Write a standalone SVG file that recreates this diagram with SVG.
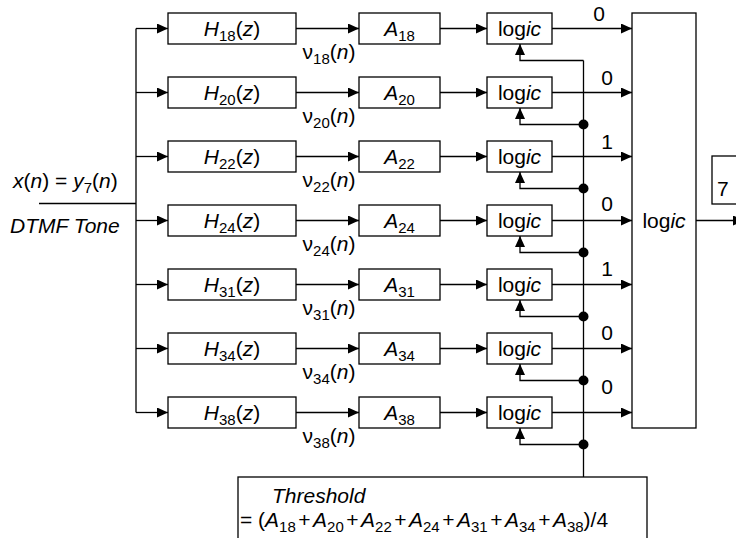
<svg xmlns="http://www.w3.org/2000/svg" width="736" height="538" viewBox="0 0 736 538">
<defs>
<marker id="ah" markerUnits="userSpaceOnUse" markerWidth="12" markerHeight="10" refX="11" refY="5" orient="auto">
<path d="M0,0 L11,5 L0,10 z" fill="#000"/>
</marker>
<style>
.b{fill:#fff;stroke:#000;stroke-width:1.3}
.w{fill:none;stroke:#000;stroke-width:1.3}
.a{fill:none;stroke:#000;stroke-width:1.3;marker-end:url(#ah)}
text{font-family:"Liberation Sans",Arial,sans-serif;font-size:21px;fill:#000}
.m{text-anchor:middle}
.i{font-style:italic}
.s{font-size:15px}
</style>
</defs>
<rect width="736" height="538" fill="#fff"/>

<g id="connectors">
<path class="w" d="M39,203.5 H136 M136,28.5 V412.5"/>
<path class="a" d="M136,28.5 H168"/>
<path class="a" d="M136,92.5 H168"/>
<path class="a" d="M136,156.5 H168"/>
<path class="a" d="M136,220.5 H168"/>
<path class="a" d="M136,284.5 H168"/>
<path class="a" d="M136,348.5 H168"/>
<path class="a" d="M136,412.5 H168"/>

<path class="a" d="M296,28.5 H359"/>
<path class="a" d="M296,92.5 H359"/>
<path class="a" d="M296,156.5 H359"/>
<path class="a" d="M296,220.5 H359"/>
<path class="a" d="M296,284.5 H359"/>
<path class="a" d="M296,348.5 H359"/>
<path class="a" d="M296,412.5 H359"/>

<path class="a" d="M440,28.5 H487"/>
<path class="a" d="M440,92.5 H487"/>
<path class="a" d="M440,156.5 H487"/>
<path class="a" d="M440,220.5 H487"/>
<path class="a" d="M440,284.5 H487"/>
<path class="a" d="M440,348.5 H487"/>
<path class="a" d="M440,412.5 H487"/>

<path class="a" d="M552,28.5 H632"/>
<path class="a" d="M552,92.5 H632"/>
<path class="a" d="M552,156.5 H632"/>
<path class="a" d="M552,220.5 H632"/>
<path class="a" d="M552,284.5 H632"/>
<path class="a" d="M552,348.5 H632"/>
<path class="a" d="M552,412.5 H632"/>

<path class="w" d="M583.5,60.5 V477"/>
<path class="a" d="M583.5,60.5 H520 V44"/>
<path class="a" d="M583.5,124.5 H520 V108"/>
<path class="a" d="M583.5,188.5 H520 V172"/>
<path class="a" d="M583.5,252.5 H520 V236"/>
<path class="a" d="M583.5,316.5 H520 V300"/>
<path class="a" d="M583.5,380.5 H520 V364"/>
<path class="a" d="M583.5,444.5 H520 V428"/>
<g fill="#000">
<circle cx="583.5" cy="124.5" r="5"/>
<circle cx="583.5" cy="188.5" r="5"/>
<circle cx="583.5" cy="252.5" r="5"/>
<circle cx="583.5" cy="316.5" r="5"/>
<circle cx="583.5" cy="380.5" r="5"/>
<circle cx="583.5" cy="444.5" r="5"/>
</g>
<path class="a" d="M696,220.5 H744"/>

<text class="m" x="599" y="21">0</text>
<text class="m" x="607" y="84.5">0</text>
<text class="m" x="607" y="148.5">1</text>
<text class="m" x="607" y="211">0</text>
<text class="m" x="607" y="276">1</text>
<text class="m" x="607" y="340">0</text>
<text class="m" x="607" y="393.5">0</text>

<text class="m" x="329" y="59">ν<tspan class="s" dy="5">18</tspan><tspan dy="-5">(</tspan><tspan class="i">n</tspan>)</text>
<text class="m" x="329" y="123">ν<tspan class="s" dy="5">20</tspan><tspan dy="-5">(</tspan><tspan class="i">n</tspan>)</text>
<text class="m" x="329" y="187">ν<tspan class="s" dy="5">22</tspan><tspan dy="-5">(</tspan><tspan class="i">n</tspan>)</text>
<text class="m" x="329" y="251">ν<tspan class="s" dy="5">24</tspan><tspan dy="-5">(</tspan><tspan class="i">n</tspan>)</text>
<text class="m" x="329" y="315">ν<tspan class="s" dy="5">31</tspan><tspan dy="-5">(</tspan><tspan class="i">n</tspan>)</text>
<text class="m" x="329" y="379">ν<tspan class="s" dy="5">34</tspan><tspan dy="-5">(</tspan><tspan class="i">n</tspan>)</text>
<text class="m" x="329" y="443">ν<tspan class="s" dy="5">38</tspan><tspan dy="-5">(</tspan><tspan class="i">n</tspan>)</text>
</g>

<g id="input">
<text x="13" y="188"><tspan class="i">x</tspan>(<tspan class="i">n</tspan>) = <tspan class="i">y</tspan><tspan class="s" dy="5">7</tspan><tspan dy="-5">(</tspan><tspan class="i">n</tspan>)</text>
<text class="i" x="10" y="232.5">DTMF Tone</text>
</g>

<g id="H18"><rect class="b" x="168" y="13" width="128" height="31"/><text class="m" x="232" y="35.5"><tspan class="i">H</tspan><tspan class="s" dy="5">18</tspan><tspan dy="-5">(</tspan><tspan class="i">z</tspan>)</text></g>
<g id="H20"><rect class="b" x="168" y="77" width="128" height="31"/><text class="m" x="232" y="99.5"><tspan class="i">H</tspan><tspan class="s" dy="5">20</tspan><tspan dy="-5">(</tspan><tspan class="i">z</tspan>)</text></g>
<g id="H22"><rect class="b" x="168" y="141" width="128" height="31"/><text class="m" x="232" y="163.5"><tspan class="i">H</tspan><tspan class="s" dy="5">22</tspan><tspan dy="-5">(</tspan><tspan class="i">z</tspan>)</text></g>
<g id="H24"><rect class="b" x="168" y="205" width="128" height="31"/><text class="m" x="232" y="227.5"><tspan class="i">H</tspan><tspan class="s" dy="5">24</tspan><tspan dy="-5">(</tspan><tspan class="i">z</tspan>)</text></g>
<g id="H31"><rect class="b" x="168" y="269" width="128" height="31"/><text class="m" x="232" y="291.5"><tspan class="i">H</tspan><tspan class="s" dy="5">31</tspan><tspan dy="-5">(</tspan><tspan class="i">z</tspan>)</text></g>
<g id="H34"><rect class="b" x="168" y="333" width="128" height="31"/><text class="m" x="232" y="355.5"><tspan class="i">H</tspan><tspan class="s" dy="5">34</tspan><tspan dy="-5">(</tspan><tspan class="i">z</tspan>)</text></g>
<g id="H38"><rect class="b" x="168" y="397" width="128" height="31"/><text class="m" x="232" y="419.5"><tspan class="i">H</tspan><tspan class="s" dy="5">38</tspan><tspan dy="-5">(</tspan><tspan class="i">z</tspan>)</text></g>

<g id="A18"><rect class="b" x="359" y="13" width="81" height="31"/><text class="m" x="399.5" y="35.5"><tspan class="i">A</tspan><tspan class="s" dy="5">18</tspan></text></g>
<g id="A20"><rect class="b" x="359" y="77" width="81" height="31"/><text class="m" x="399.5" y="99.5"><tspan class="i">A</tspan><tspan class="s" dy="5">20</tspan></text></g>
<g id="A22"><rect class="b" x="359" y="141" width="81" height="31"/><text class="m" x="399.5" y="163.5"><tspan class="i">A</tspan><tspan class="s" dy="5">22</tspan></text></g>
<g id="A24"><rect class="b" x="359" y="205" width="81" height="31"/><text class="m" x="399.5" y="227.5"><tspan class="i">A</tspan><tspan class="s" dy="5">24</tspan></text></g>
<g id="A31"><rect class="b" x="359" y="269" width="81" height="31"/><text class="m" x="399.5" y="291.5"><tspan class="i">A</tspan><tspan class="s" dy="5">31</tspan></text></g>
<g id="A34"><rect class="b" x="359" y="333" width="81" height="31"/><text class="m" x="399.5" y="355.5"><tspan class="i">A</tspan><tspan class="s" dy="5">34</tspan></text></g>
<g id="A38"><rect class="b" x="359" y="397" width="81" height="31"/><text class="m" x="399.5" y="419.5"><tspan class="i">A</tspan><tspan class="s" dy="5">38</tspan></text></g>

<g id="L18"><rect class="b" x="487" y="13" width="65" height="31"/><text class="m" x="519.5" y="35.5">log<tspan class="i">ic</tspan></text></g>
<g id="L20"><rect class="b" x="487" y="77" width="65" height="31"/><text class="m" x="519.5" y="99.5">log<tspan class="i">ic</tspan></text></g>
<g id="L22"><rect class="b" x="487" y="141" width="65" height="31"/><text class="m" x="519.5" y="163.5">log<tspan class="i">ic</tspan></text></g>
<g id="L24"><rect class="b" x="487" y="205" width="65" height="31"/><text class="m" x="519.5" y="227.5">log<tspan class="i">ic</tspan></text></g>
<g id="L31"><rect class="b" x="487" y="269" width="65" height="31"/><text class="m" x="519.5" y="291.5">log<tspan class="i">ic</tspan></text></g>
<g id="L34"><rect class="b" x="487" y="333" width="65" height="31"/><text class="m" x="519.5" y="355.5">log<tspan class="i">ic</tspan></text></g>
<g id="L38"><rect class="b" x="487" y="397" width="65" height="31"/><text class="m" x="519.5" y="419.5">log<tspan class="i">ic</tspan></text></g>

<g id="decoder"><rect class="b" x="632" y="13" width="64" height="415"/><text class="m" x="664" y="227.5">log<tspan class="i">ic</tspan></text></g>

<g id="output"><rect class="b" x="712" y="156" width="40" height="48"/><text x="717" y="196">7</text></g>

<g id="threshold">
<rect class="b" x="238" y="477" width="409" height="80"/>
<text class="i" x="272" y="502.5">Threshold</text>
<text x="240" y="526.5">= (<tspan class="i">A</tspan><tspan class="s" dy="5">18</tspan><tspan dx="2.5" dy="-5">+</tspan><tspan class="i" dx="2.5">A</tspan><tspan class="s" dy="5">20</tspan><tspan dx="2.5" dy="-5">+</tspan><tspan class="i" dx="2.5">A</tspan><tspan class="s" dy="5">22</tspan><tspan dx="2.5" dy="-5">+</tspan><tspan class="i" dx="2.5">A</tspan><tspan class="s" dy="5">24</tspan><tspan dx="2.5" dy="-5">+</tspan><tspan class="i" dx="2.5">A</tspan><tspan class="s" dy="5">31</tspan><tspan dx="2.5" dy="-5">+</tspan><tspan class="i" dx="2.5">A</tspan><tspan class="s" dy="5">34</tspan><tspan dx="2.5" dy="-5">+</tspan><tspan class="i" dx="2.5">A</tspan><tspan class="s" dy="5">38</tspan><tspan dy="-5">)/4</tspan></text>
</g>
</svg>
